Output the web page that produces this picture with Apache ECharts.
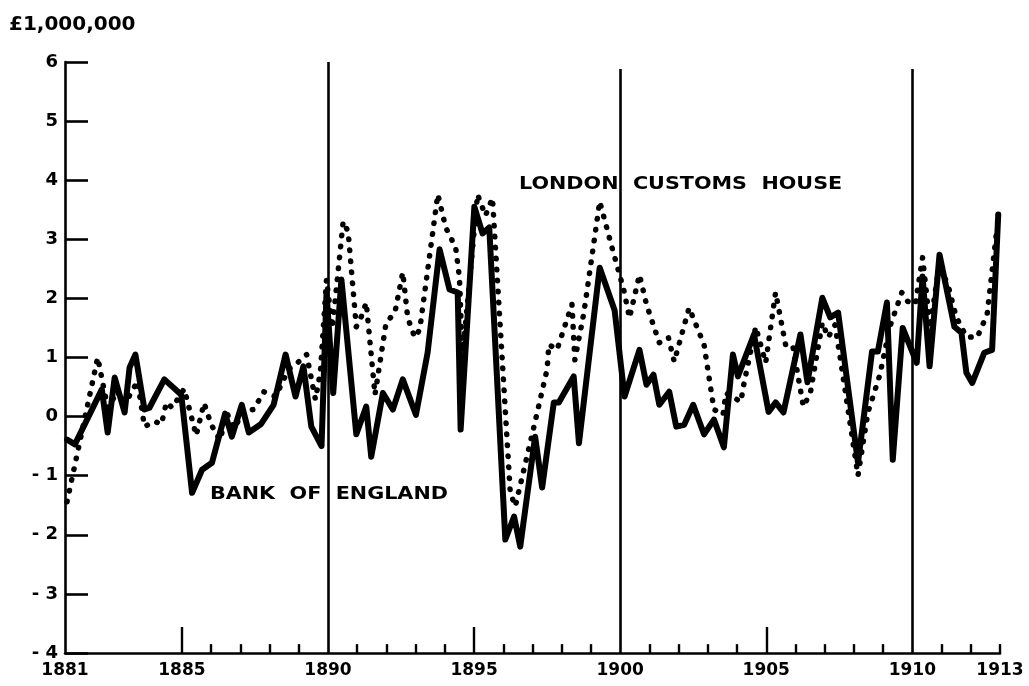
<!DOCTYPE html>
<html><head><meta charset="utf-8">
<script src="https://cdn.jsdelivr.net/npm/echarts@6.0.0/dist/echarts.min.js"></script>
<style>html,body{margin:0;padding:0;background:#fff}#c{width:1029px;height:686px}</style>
</head><body><div id="c"></div>
<script>
// Bank of England (solid line), £ million
const boeYears = [1881.07,1881.34,1882.26,1882.46,1882.70,1883.04,1883.21,1883.41,1883.72,1883.89,1884.40,1884.98,1885.35,1885.69,1886.03,1886.48,1886.71,1887.05,1887.29,1887.70,1888.14,1888.55,1888.89,1889.16,1889.43,1889.78,1889.95,1890.18,1890.46,1890.97,1891.31,1891.48,1891.88,1892.22,1892.56,1893.01,1893.41,1893.82,1894.16,1894.44,1894.54,1895.01,1895.29,1895.52,1896.07,1896.37,1896.58,1897.09,1897.33,1897.73,1897.90,1898.41,1898.59,1899.30,1899.81,1900.15,1900.66,1900.90,1901.14,1901.34,1901.68,1901.92,1902.19,1902.50,1902.87,1903.21,1903.55,1903.86,1904.03,1904.58,1905.08,1905.32,1905.59,1906.17,1906.41,1906.92,1907.19,1907.46,1908.14,1908.62,1908.82,1909.13,1909.33,1909.67,1910.15,1910.35,1910.59,1910.93,1911.44,1911.68,1911.85,1912.05,1912.46,1912.73,1912.94];
const boeValues = [-0.39,-0.47,0.46,-0.27,0.66,0.07,0.83,1.05,0.12,0.15,0.63,0.37,-1.29,-0.9,-0.78,0.05,-0.34,0.2,-0.27,-0.13,0.2,1.05,0.34,0.85,-0.17,-0.5,2.1,0.4,2.32,-0.3,0.17,-0.68,0.4,0.12,0.63,0.03,1.08,2.83,2.15,2.1,-0.22,3.55,3.1,3.2,-2.08,-1.69,-2.2,-0.34,-1.2,0.24,0.24,0.68,-0.45,2.52,1.8,0.34,1.13,0.54,0.71,0.2,0.42,-0.17,-0.14,0.2,-0.3,-0.05,-0.52,1.05,0.68,1.39,0.08,0.24,0.07,1.39,0.58,2.01,1.68,1.76,-0.78,1.1,1.1,1.93,-0.73,1.5,0.91,2.37,0.85,2.74,1.52,1.42,0.74,0.57,1.08,1.13,3.42];
// London Customs House (dotted line), £ million
const lchYears = [1881.07,1882.12,1882.46,1882.80,1883.04,1883.48,1883.72,1884.06,1884.30,1884.47,1884.67,1885.08,1885.35,1885.49,1885.76,1886.00,1886.30,1886.55,1886.80,1887.10,1887.46,1887.80,1888.21,1888.65,1888.89,1889.27,1889.57,1889.74,1889.95,1890.15,1890.52,1890.69,1890.97,1891.14,1891.31,1891.61,1891.99,1892.29,1892.56,1892.73,1892.97,1893.14,1893.76,1894.03,1894.37,1894.50,1894.60,1895.12,1895.39,1895.63,1896.24,1896.41,1897.05,1897.50,1897.56,1897.84,1898.35,1898.45,1898.76,1899.10,1899.30,1899.71,1900.12,1900.32,1900.66,1900.90,1901.34,1901.65,1901.85,1902.36,1902.87,1903.21,1903.52,1903.62,1904.13,1904.23,1904.64,1904.98,1905.32,1905.66,1905.90,1906.27,1906.51,1906.92,1907.12,1907.35,1907.53,1908.14,1908.48,1908.89,1909.23,1909.64,1909.84,1910.10,1910.35,1910.49,1910.60,1910.93,1911.26,1911.50,1911.85,1912.22,1912.56,1912.90];
const lchValues = [-1.44,1.0,0.15,0.42,0.2,0.6,-0.17,-0.08,-0.13,0.24,0.15,0.47,-0.05,-0.32,0.23,-0.13,-0.4,0.05,-0.2,0.1,0.12,0.42,0.34,0.8,0.88,1.05,0.29,0.75,2.32,1.5,3.3,3.13,1.52,1.69,1.93,0.37,1.59,1.76,2.44,1.67,1.34,1.47,3.76,3.2,2.86,2.35,1.0,3.76,3.4,3.7,-1.29,-1.52,-0.17,0.8,1.22,1.13,1.9,0.96,1.76,2.94,3.64,2.88,2.15,1.67,2.4,1.9,1.25,1.34,0.93,1.84,1.22,0.12,0.03,0.4,0.25,0.54,1.52,0.91,2.1,1.22,1.22,0.17,0.4,1.59,1.34,1.55,1.0,-1.0,0.07,0.71,1.52,2.1,1.95,1.9,2.69,2.06,1.5,2.6,2.15,1.69,1.35,1.34,1.73,3.2];

const xLabelYears = [1881,1885,1890,1895,1900,1905,1910,1913];
const dividerYears = [1890,1900,1910];
const longTickYears = [1885,1895,1905];
const shortTickYears = [1886,1887,1888,1889,1891,1892,1893,1894,1896,1897,1898,1899,1901,1902,1903,1904,1906,1907,1908,1909,1911,1912,1913];
const yMin = -4, yMax = 6;

const FONT = 'DejaVu Sans';
const chart = echarts.init(document.getElementById('c'), null, {renderer:'canvas'});

const pair = (xs, ys) => xs.map((x, i) => [x, ys[i]]);
const ink = '#000';
const markLines = []
  .concat(dividerYears.map(y => [{coord:[y, yMin], lineStyle:{width:2.6}}, {coord:[y, y === 1890 ? yMax : yMax - 0.12]}]))
  .concat(longTickYears.map(y => [{coord:[y, yMin], lineStyle:{width:2.4}}, {coord:[y, yMin + 0.44]}]))
  .concat(shortTickYears.map(y => [{coord:[y, yMin], lineStyle:{width:2.4}}, {coord:[y, yMin + 0.15]}]));

chart.setOption({
  animation: false,
  backgroundColor: '#fff',
  grid: {left: 65, right: 29, top: 62, bottom: 33, containLabel: false},
  xAxis: {
    type: 'value', min: 1881, max: 1913, interval: 1,
    axisLine: {show: true, onZero: false, lineStyle: {color: ink, width: 2.6}},
    axisTick: {show: false},
    splitLine: {show: false},
    axisLabel: {
      show: true, margin: 9, color: ink, fontFamily: FONT, fontWeight: 'bold', fontSize: 17,
      showMinLabel: true, showMaxLabel: true,
      formatter: v => xLabelYears.includes(v) ? String(v) : ''
    }
  },
  yAxis: {
    type: 'value', min: yMin, max: yMax, interval: 1,
    axisLine: {show: true, onZero: false, lineStyle: {color: ink, width: 2.6}},
    axisTick: {show: true, inside: true, length: 23, lineStyle: {color: ink, width: 2.6}},
    splitLine: {show: false},
    axisLabel: {
      margin: 7, color: ink, fontFamily: FONT, fontWeight: 'bold', fontSize: 18,
      formatter: v => v < 0 ? '- ' + Math.abs(v) : String(v)
    }
  },
  series: [
    {
      name: 'London Customs House', type: 'line', data: pair(lchYears, lchValues),
      showSymbol: false, symbol: 'none', z: 2,
      lineStyle: {color: ink, width: 5.5, type: [0.5, 10.5], cap: 'round', join: 'round'}
    },
    {
      name: 'Bank of England', type: 'line', data: pair(boeYears, boeValues),
      showSymbol: false, symbol: 'none', z: 3,
      lineStyle: {color: ink, width: 6, type: 'solid', join: 'round', cap: 'round'},
      markLine: {
        silent: true, symbol: ['none', 'none'], animation: false,
        label: {show: false},
        lineStyle: {color: ink, type: 'solid', width: 2.5},
        emphasis: {disabled: true},
        data: markLines
      }
    }
  ],
  graphic: [
    {type: 'text', x: 9, y: 15, style: {text: '£1,000,000', font: 'bold 20px "' + FONT + '"', fill: ink}},
    {type: 'text', x: 210, y: 485, scaleX: 1.15, style: {text: 'BANK  OF  ENGLAND', font: 'bold 18px "' + FONT + '"', fill: ink}},
    {type: 'text', x: 519, y: 175, scaleX: 1.15, style: {text: 'LONDON  CUSTOMS  HOUSE', font: 'bold 18px "' + FONT + '"', fill: ink}}
  ]
});
</script>
</body></html>
